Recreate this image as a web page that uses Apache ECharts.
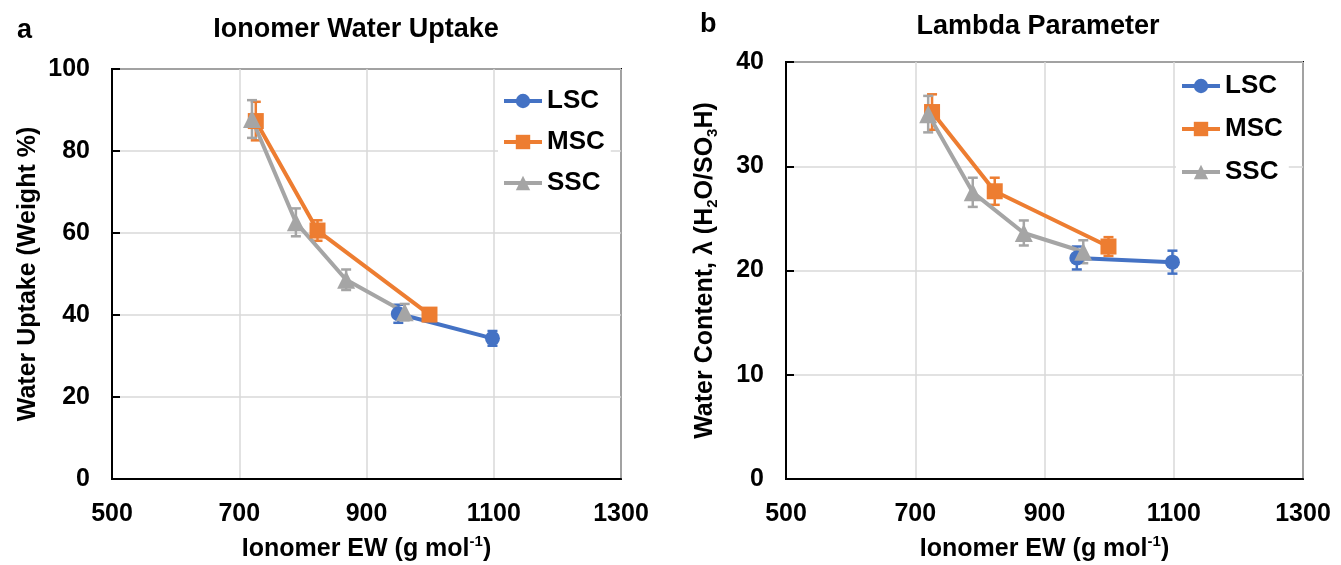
<!DOCTYPE html>
<html>
<head>
<meta charset="utf-8">
<script src="https://cdn.jsdelivr.net/npm/echarts@6/dist/echarts.min.js"></script>
<style>
html, body { margin: 0; padding: 0; background: #fff; }
#main { width: 1341px; height: 565px; }
</style>
</head>
<body>
<div id="main"></div>
<script>
// data
var seriesNames = ['LSC', 'MSC', 'SSC'];
var xTicks = [500, 700, 900, 1100, 1300];

var lscEW = [950, 1098];
var mscEW = [726, 823, 999];
var sscEW = [720, 789, 868, 960];

// panel a: water uptake (weight %)
var lscUptake = [40.3, 34.3];
var lscUptakeErr = [2.2, 1.8];
var mscUptake = [87.3, 60.6, 40.1];
var mscUptakeErr = [4.7, 2.5, 1.5];
var sscUptake = [87.8, 62.6, 48.6, 40.7];
var sscUptakeErr = [4.6, 3.4, 2.5, 2.0];

// panel b: lambda
var lscLambda = [21.2, 20.8];
var lscLambdaErr = [1.1, 1.1];
var mscLambda = [35.2, 27.6, 22.3];
var mscLambdaErr = [1.7, 1.3, 0.9];
var sscLambda = [35.0, 27.5, 23.6, 21.8];
var sscLambdaErr = [1.75, 1.4, 1.2, 1.1];

var colors = { LSC: '#4472C4', MSC: '#ED7D31', SSC: '#A5A5A5' };
var symbols = { LSC: ['circle', 15], MSC: ['rect', 16], SSC: ['triangle', 18] };
var font = 'Liberation Sans, Arial, sans-serif';

var dom = document.getElementById('main');
var myChart = echarts.init(dom, null, { renderer: 'canvas' });

function zip(xs, ys, es) {
    return xs.map(function (x, i) { return es ? [x, ys[i], es[i]] : [x, ys[i]]; });
}

function lineSeries(name, xs, ys, idx) {
    return {
        type: 'line',
        name: name,
        xAxisIndex: idx,
        yAxisIndex: idx,
        data: zip(xs, ys),
        symbol: symbols[name][0],
        symbolSize: symbols[name][1],
        lineStyle: { width: 4, color: colors[name] },
        itemStyle: { color: colors[name] },
        emphasis: { disabled: true },
        animation: false
    };
}

function errSeries(name, xs, ys, es, idx) {
    return {
        type: 'custom',
        name: name + ' err',
        xAxisIndex: idx,
        yAxisIndex: idx,
        data: zip(xs, ys, es),
        encode: { x: 0, y: 1 },
        silent: true,
        animation: false,
        renderItem: function (params, api) {
            var x = api.value(0), y = api.value(1), e = api.value(2);
            var hi = api.coord([x, y + e]);
            var lo = api.coord([x, y - e]);
            var cap = 5;
            var st = { stroke: colors[name], lineWidth: 2.5 };
            return {
                type: 'group',
                children: [
                    { type: 'line', shape: { x1: hi[0], y1: hi[1], x2: lo[0], y2: lo[1] }, style: st },
                    { type: 'line', shape: { x1: hi[0] - cap, y1: hi[1], x2: hi[0] + cap, y2: hi[1] }, style: st },
                    { type: 'line', shape: { x1: lo[0] - cap, y1: lo[1], x2: lo[0] + cap, y2: lo[1] }, style: st }
                ]
            };
        }
    };
}

function xAxis(idx) {
    return {
        type: 'value',
        gridIndex: idx,
        min: xTicks[0],
        max: xTicks[xTicks.length - 1],
        interval: 200,
        name: 'Ionomer EW (g mol{sup|-1})',
        nameLocation: 'middle',
        nameGap: 55,
        nameTextStyle: {
            fontFamily: font, fontWeight: 'bold', fontSize: 25, color: '#000', lineHeight: 30,
            rich: { sup: { fontFamily: font, fontWeight: 'bold', fontSize: 15, color: '#000', verticalAlign: 'top' } }
        },
        axisLine: { show: true, lineStyle: { color: '#000', width: 2 } },
        axisTick: { show: false },
        axisLabel: {
            fontFamily: font, fontWeight: 'bold', fontSize: 25, color: '#000', margin: 23,
            formatter: function (v) { return String(v); }
        },
        splitLine: { show: true, lineStyle: { color: '#d9d9d9', width: 1.5 } }
    };
}

function yAxis(idx, max, interval, name, gap) {
    return {
        type: 'value',
        gridIndex: idx,
        min: 0,
        max: max,
        interval: interval,
        name: name,
        nameLocation: 'middle',
        nameGap: gap,
        nameTextStyle: {
            fontFamily: font, fontWeight: 'bold', fontSize: 25, color: '#000', lineHeight: 30,
            rich: { sub: { fontFamily: font, fontWeight: 'bold', fontSize: 15, color: '#000', verticalAlign: 'bottom' } }
        },
        axisLine: { show: true, lineStyle: { color: '#000', width: 2 } },
        axisTick: { show: true, inside: true, length: 8, lineStyle: { color: '#000', width: 2 } },
        axisLabel: { fontFamily: font, fontWeight: 'bold', fontSize: 25, color: '#000', margin: 22 },
        splitLine: { show: true, lineStyle: { color: '#d9d9d9', width: 1.5 } }
    };
}

function legend(left, top, gap) {
    return {
        data: seriesNames,
        orient: 'vertical',
        left: left,
        top: top,
        itemGap: gap,
        itemWidth: 38,
        itemHeight: 18,
        lineStyle: { width: 4 },
        backgroundColor: '#fff',
        padding: [4, 6, 4, 4],
        textStyle: { fontFamily: font, fontWeight: 'bold', fontSize: 26, color: '#000' }
    };
}

var titleStyle = { fontFamily: font, fontWeight: 'bold', fontSize: 27, color: '#000' };

var option = {
    backgroundColor: '#fff',
    animation: false,
    title: [
        { text: 'Ionomer Water Uptake', left: 351, top: 11, textAlign: 'center', textStyle: titleStyle },
        { text: 'Lambda Parameter', left: 1033, top: 8, textAlign: 'center', textStyle: titleStyle },
        { text: 'a', left: 12, top: 12, textStyle: titleStyle },
        { text: 'b', left: 695, top: 6, textStyle: titleStyle }
    ],
    grid: [
        { left: 112, top: 69, width: 509, height: 410, outerBoundsMode: 'none', show: true, borderColor: '#000', borderWidth: 2 },
        { left: 786, top: 62, width: 517, height: 417, outerBoundsMode: 'none', show: true, borderColor: '#000', borderWidth: 2 }
    ],
    legend: [legend(498, 84, 15), legend(1176, 69, 17)],
    xAxis: [xAxis(0), xAxis(1)],
    yAxis: [
        yAxis(0, 100, 20, 'Water Uptake (Weight %)', 69),
        yAxis(1, 40, 10, 'Water Content, λ (H{sub|2}O/SO{sub|3}H)', 66)
    ],
    series: [
        lineSeries('LSC', lscEW, lscUptake, 0),
        errSeries('LSC', lscEW, lscUptake, lscUptakeErr, 0),
        lineSeries('MSC', mscEW, mscUptake, 0),
        errSeries('MSC', mscEW, mscUptake, mscUptakeErr, 0),
        lineSeries('SSC', sscEW, sscUptake, 0),
        errSeries('SSC', sscEW, sscUptake, sscUptakeErr, 0),

        lineSeries('LSC', lscEW, lscLambda, 1),
        errSeries('LSC', lscEW, lscLambda, lscLambdaErr, 1),
        lineSeries('MSC', mscEW, mscLambda, 1),
        errSeries('MSC', mscEW, mscLambda, mscLambdaErr, 1),
        lineSeries('SSC', sscEW, sscLambda, 1),
        errSeries('SSC', sscEW, sscLambda, sscLambdaErr, 1)
    ]
};

myChart.setOption(option);
window.addEventListener('resize', myChart.resize);
</script>
</body>
</html>
